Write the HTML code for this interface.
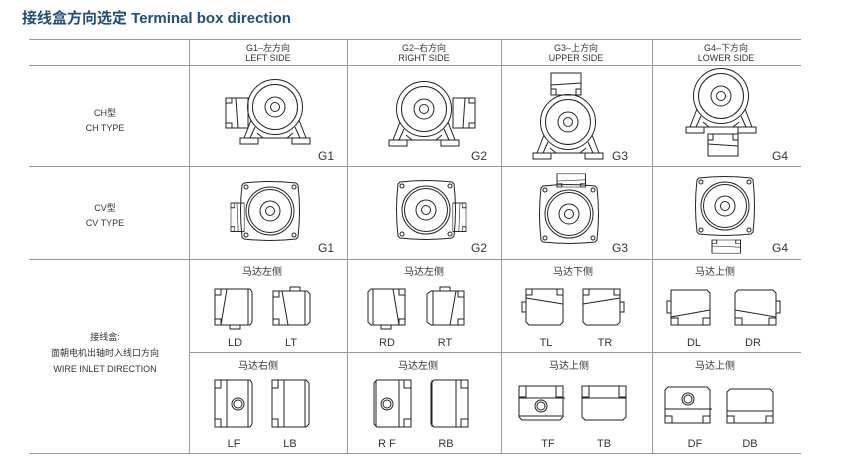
<!DOCTYPE html>
<html><head><meta charset="utf-8"><style>
html,body{margin:0;padding:0;background:#fff;}
body{width:847px;height:470px;overflow:hidden;position:relative;}
svg{position:absolute;left:0;top:0;}
text{font-family:"Liberation Sans","Noto Sans CJK SC",sans-serif;fill:#333;}
</style></head><body>
<svg width="847" height="470" viewBox="0 0 847 470" xmlns="http://www.w3.org/2000/svg">
<defs>
<g id="ch" fill="none" stroke="#222" stroke-width="1">
 <circle r="27.5"/><circle r="22.5"/><circle r="10"/><circle r="4.5"/>
 <path d="M-24,13 L-31,31 M-20,20 L-25,31 M24,13 L31,31 M20,20 L25,31 M-18,26 L-12,31 M18,26 L12,31"/>
 <rect x="-35" y="31" width="18" height="6"/><rect x="17" y="31" width="18" height="6"/>
 <path d="M-17,31 H17"/>
</g>
<g id="cv" fill="none" stroke="#222" stroke-width="1">
 <path d="M-26,-28 Q0,-31 26,-28 L28,-26 Q31,0 28,26 L26,28 Q0,31 -26,28 L-28,26 Q-31,0 -28,-26 Z"/>
 <circle r="24"/><circle r="21.5"/><circle r="10"/><circle r="4.5"/>
 <circle cx="-24" cy="-24" r="2"/><circle cx="24" cy="-24" r="2"/><circle cx="-24" cy="24" r="2"/><circle cx="24" cy="24" r="2"/>
</g>
<g id="boxv" fill="none" stroke="#222" stroke-width="1">
 <rect x="0" y="0" width="22" height="30"/>
 <rect x="0" y="0" width="6" height="5"/><rect x="0" y="25" width="6" height="5"/>
 <path d="M10,0 L12,30"/>
</g>
</defs>

<text x="22" y="23" font-size="15" font-weight="bold" style="fill:#1f4e79">接线盒方向选定 Terminal box direction</text>

<g stroke="#999" stroke-width="1" fill="none">
 <path d="M29,39.5 H801 M29,65.5 H801 M29,166.5 H801 M29,259.5 H801 M189,352.5 H801 M29,453.5 H801"/>
 <path d="M189.5,39 V453 M347.5,39 V453 M501.5,39 V453 M652.5,39 V453"/>
</g>

<g font-size="9" text-anchor="middle">
 <text x="268" y="51">G1–左方向</text><text x="268" y="61">LEFT SIDE</text>
 <text x="424" y="51">G2–右方向</text><text x="424" y="61">RIGHT SIDE</text>
 <text x="576" y="51">G3–上方向</text><text x="576" y="61">UPPER SIDE</text>
 <text x="726" y="51">G4–下方向</text><text x="726" y="61">LOWER SIDE</text>
 <text x="105" y="116">CH型</text><text x="105" y="131">CH TYPE</text>
 <text x="105" y="211">CV型</text><text x="105" y="226">CV TYPE</text>
 <text x="105" y="340">接线盒:</text><text x="105" y="356">面朝电机出轴时入线口方向</text><text x="105" y="372">WIRE INLET DIRECTION</text>
</g>
<g font-size="12">
 <text x="318" y="160">G1</text><text x="471" y="160">G2</text><text x="612" y="160">G3</text><text x="772" y="160">G4</text>
 <text x="318" y="252">G1</text><text x="471" y="252">G2</text><text x="612" y="252">G3</text><text x="772" y="252">G4</text>
</g>

<!-- CH -->
<use href="#ch" x="275" y="107"/>
<use href="#boxv" x="226" y="98"/>
<use href="#ch" x="424" y="109"/>
<use href="#boxv" transform="translate(475,98) scale(-1,1)"/>
<use href="#ch" x="568" y="122"/>
<use href="#boxv" transform="translate(551,95) rotate(-90)"/>
<use href="#ch" x="721" y="96"/>
<use href="#boxv" transform="translate(708,134) rotate(-90) scale(-1,1)"/>

<!-- CV -->
<use href="#cv" x="270" y="211"/>
<use href="#boxv" transform="translate(231,203) scale(0.6,0.95)"/>
<use href="#cv" x="426" y="210"/>
<use href="#boxv" transform="translate(466,203) scale(-0.6,0.95)"/>
<use href="#cv" x="569" y="214"/>
<use href="#boxv" transform="translate(557,187) rotate(-90) scale(0.6,0.95)"/>
<use href="#cv" x="725" y="206"/>
<use href="#boxv" transform="translate(712,240) rotate(-90) scale(-0.6,0.95)"/>

<g font-size="10" text-anchor="middle">
 <text x="262" y="275">马达左侧</text><text x="424" y="275">马达左侧</text>
 <text x="573" y="275">马达下侧</text><text x="715" y="275">马达上侧</text>
 <text x="258" y="369">马达右侧</text><text x="418" y="369">马达左侧</text>
 <text x="569" y="369">马达上侧</text><text x="715" y="369">马达上侧</text>
</g>
<g font-size="11" text-anchor="middle">
 <text x="235" y="346">LD</text><text x="291" y="346">LT</text>
 <text x="387" y="346">RD</text><text x="445" y="346">RT</text>
 <text x="546" y="346">TL</text><text x="605" y="346">TR</text>
 <text x="694" y="346">DL</text><text x="753" y="346">DR</text>
 <text x="234" y="447">LF</text><text x="290" y="447">LB</text>
 <text x="387" y="447">R F</text><text x="446" y="447">RB</text>
 <text x="548" y="447">TF</text><text x="604" y="447">TB</text>
 <text x="695" y="447">DF</text><text x="750" y="447">DB</text>
</g>

<g fill="none" stroke="#222" stroke-width="1">
 <!-- LD -->
 <path d="M215,289 H250 L252,292 V322 L250,325 H215 Z M248,289 V325 M215,289 h6 v6 h-6 M215,325 h6 v-6 h-6 M227,289 L221,325 M230,325 v4 h10 v-4"/>
 <!-- LT -->
 <path d="M273,291 H307 L310,294 V322 L307,325 H273 Z M305,291 V325 M273,291 h6 v6 h-6 M273,325 h6 v-6 h-6 M282,291 L288,325 M290,291 v-4 h10 v4"/>
 <!-- RD -->
 <path d="M405,289 H371 L368,292 V322 L371,325 H405 Z M373,289 V325 M405,289 h-6 v6 h6 M405,325 h-6 v-6 h6 M393,289 L399,325 M381,325 v4 h10 v-4"/>
 <!-- RT -->
 <path d="M464,291 H431 L427,294 V322 L431,325 H464 Z M433,291 V325 M464,291 h-6 v6 h6 M464,325 h-6 v-6 h6 M456,291 L450,325 M440,291 v-4 h10 v4"/>
 <!-- TL -->
 <path d="M526,289 H563 V322 L560,325 H529 L526,322 Z M526,289 v6 h6 v-6 M563,289 v6 h-6 v-6 M526,298 L563,304 M526,302 h-4 v10 h4"/>
 <!-- TR -->
 <path d="M583,289 H620 V322 L617,325 H586 L583,322 Z M583,289 v6 h6 v-6 M620,289 v6 h-6 v-6 M583,304 L620,298 M620,302 h4 v10 h-4"/>
 <!-- DL -->
 <path d="M671,290 H707 L710,293 V325 H671 V293 Z M671,325 v-7 h7 v7 M710,325 v-7 h-7 v7 M671,317 L710,310 M671,301 h-4 v12 h4"/>
 <!-- DR -->
 <path d="M738,290 H773 L776,293 V325 H735 V293 Z M735,325 v-7 h7 v7 M776,325 v-7 h-7 v7 M735,310 L776,317 M776,301 h4 v12 h-4"/>
 <!-- LF -->
 <path d="M215,380 H250 L252,383 V424 L250,427 H215 Z M248,380 V427 M215,380 h6 v8 h-6 M215,427 h6 v-8 h-6 M227,380 V427"/>
 <circle cx="238" cy="404" r="6"/><circle cx="238" cy="404" r="4"/>
 <!-- LB -->
 <path d="M272,380 H306 L309,383 V424 L306,427 H272 Z M305,380 V427 M272,380 h6 v8 h-6 M272,427 h6 v-8 h-6 M284,380 V427"/>
 <!-- RF -->
 <path d="M411,380 H377 L374,383 V424 L377,427 H411 Z M376,380 V427 M411,380 h-7 v8 h7 M411,427 h-7 v-8 h7 M399,380 V427"/>
 <circle cx="387" cy="404" r="6"/><circle cx="387" cy="404" r="4"/>
 <!-- RB -->
 <path d="M468,380 H434 L431,383 V424 L434,427 H468 Z M432,380 V427 M468,380 h-7 v8 h7 M468,427 h-7 v-8 h7 M456,380 V427"/>
 <!-- TF -->
 <path d="M519,386 H563 V417 L560,420 H522 L519,417 Z M519,386 v11 h7 v-11 M563,386 v11 h-7 v-11 M519,398 H565 M519,416 H563"/>
 <circle cx="541" cy="406" r="6"/><circle cx="541" cy="406" r="4"/>
 <!-- TB -->
 <path d="M582,386 H626 V417 L623,420 H585 L582,417 Z M582,386 v11 h7 v-11 M626,386 v11 h-7 v-11 M582,398 H626"/>
 <!-- DF -->
 <path d="M668,387 H707 L710,390 V423 H665 V390 Z M665,423 v-7 h7 v7 M710,423 v-7 h-7 v7 M665,409 H712"/>
 <circle cx="688" cy="399" r="6"/><circle cx="688" cy="399" r="4"/>
 <!-- DB -->
 <path d="M730,389 H770 L773,392 V423 H727 V392 Z M727,423 v-7 h7 v7 M773,423 v-7 h-7 v7 M727,411 H773"/>
</g>
</svg>
</body></html>
